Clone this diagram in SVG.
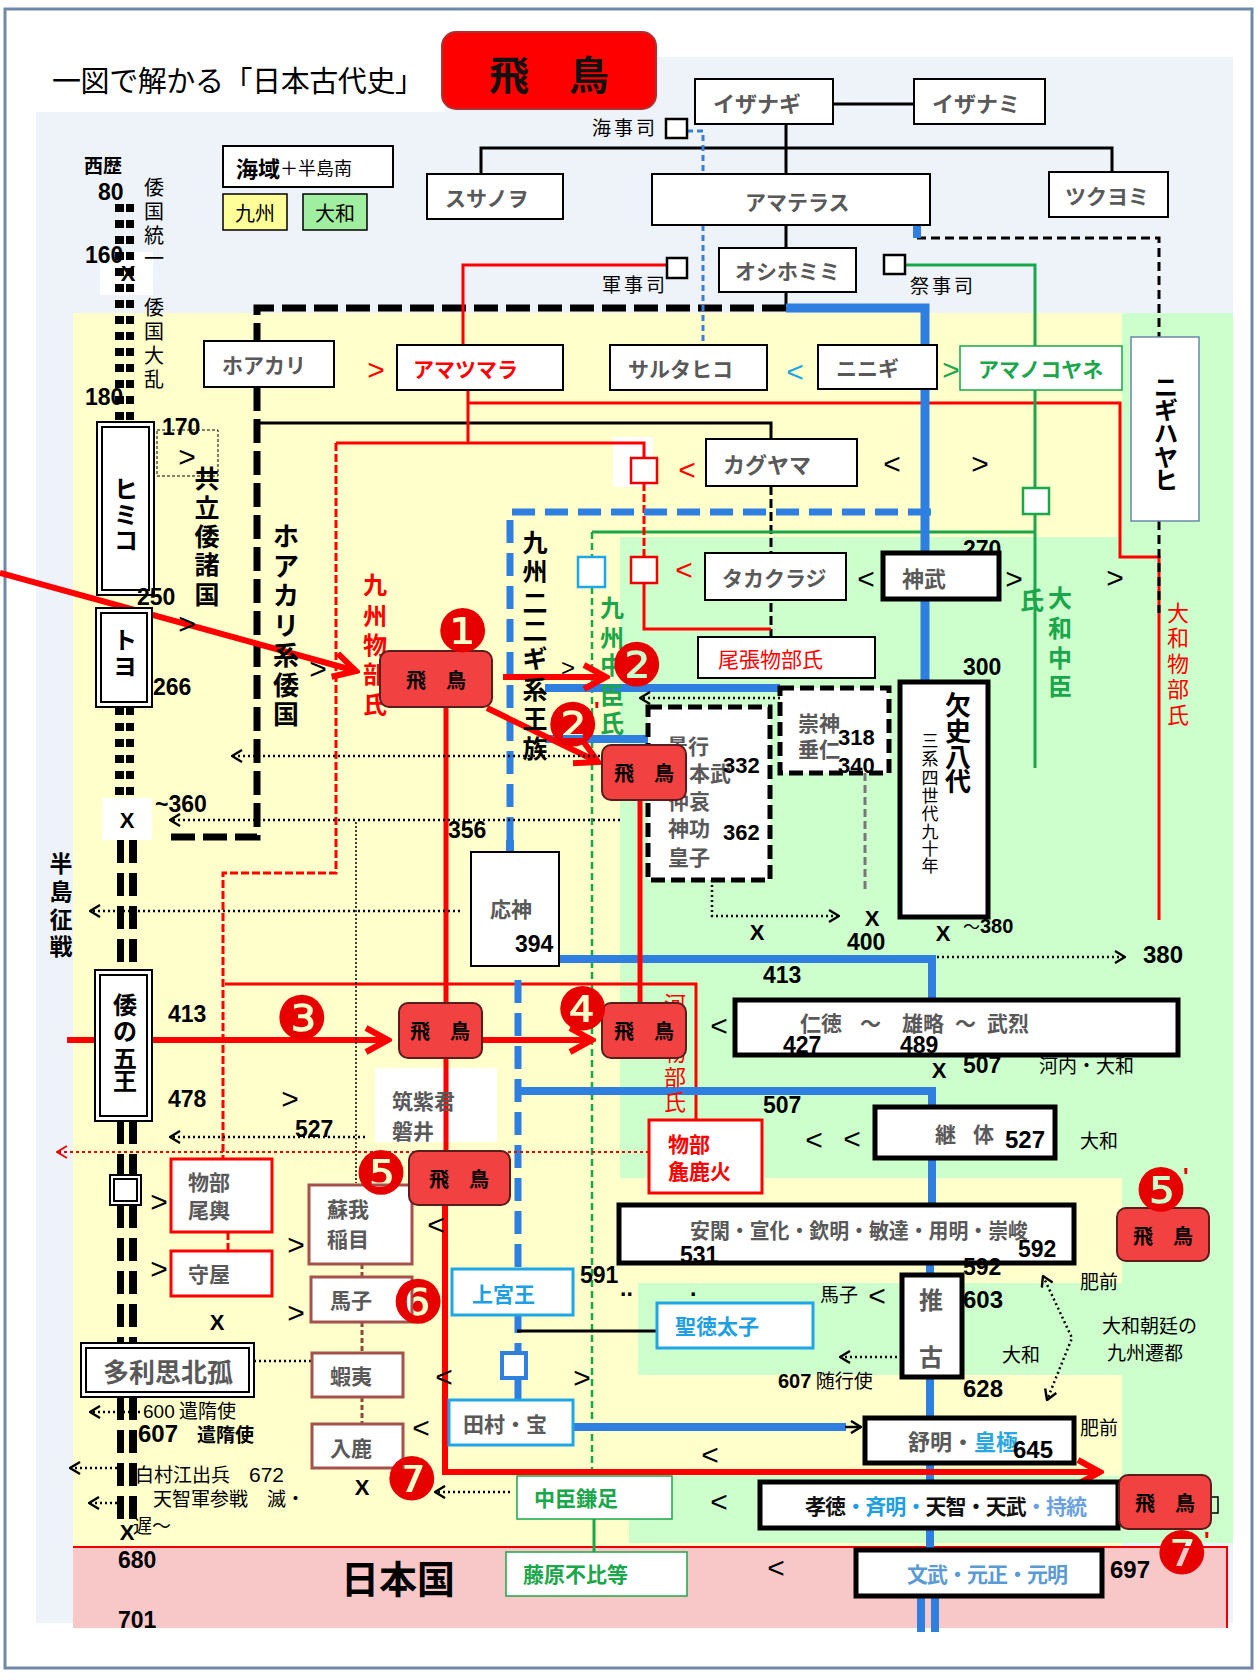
<svg xmlns="http://www.w3.org/2000/svg" width="1260" height="1680" viewBox="0 0 1260 1680">
<defs>
<style>
.j{font-family:"Noto Sans CJK JP","Noto Sans CJK SC",sans-serif}
.g{font-family:"Noto Sans CJK JP","Noto Sans CJK SC",sans-serif;font-weight:700;fill:#595959;font-size:21px;dominant-baseline:central}
.n{font-family:"Liberation Sans",Arial,sans-serif;font-weight:700;font-size:23px;fill:#000}
.s{font-family:"Liberation Sans",Arial,sans-serif;font-size:30px;text-anchor:middle;dominant-baseline:central}
.x{font-family:"Liberation Sans",Arial,sans-serif;font-weight:700;font-size:22px;text-anchor:middle;dominant-baseline:central}
.v{font-family:"Noto Sans CJK JP","Noto Sans CJK SC",sans-serif;text-anchor:middle;dominant-baseline:central}
.l{font-family:"Noto Sans CJK JP","Noto Sans CJK SC",sans-serif;font-size:19px;fill:#000}
.w{fill:#fff;stroke:#000;stroke-width:2}
.k{fill:#fff;stroke:#000;stroke-width:5}
.kb{fill:#fff;stroke:#1ea6e6;stroke-width:3}
.kr{fill:#fff;stroke:#f00;stroke-width:3}
.kn{fill:#fff;stroke:#a5524c;stroke-width:3}
.kg{fill:#fff;stroke:#1aa64a;stroke-width:1.5}
.kd{fill:#fff;stroke:#000;stroke-width:5;stroke-dasharray:14 6}
.a{fill:#f24141;stroke:#5a1c1c;stroke-width:2}
.at{font-family:"Noto Sans CJK JP","Noto Sans CJK SC",sans-serif;font-weight:700;font-size:20px;fill:#000;text-anchor:middle;dominant-baseline:central}
.cn{font-family:"DejaVu Sans",sans-serif;fill:#e60000;font-size:60px;text-anchor:middle;dominant-baseline:central}
.pr{font-family:"Liberation Sans",Arial,sans-serif;fill:#e60000;font-size:24px;font-weight:700}
.dot{stroke:#000;stroke-width:2.5;stroke-dasharray:2 3;fill:none}
.da{stroke:#000;stroke-width:2.5;stroke-dasharray:2 3;fill:none;marker-end:url(#ad)}
.sq{fill:#fff;stroke:#000;stroke-width:2.5}
</style>
<marker id="ar" markerUnits="userSpaceOnUse" viewBox="0 0 30 30" markerWidth="30" markerHeight="30" refX="26" refY="15" orient="auto"><path d="M4,3L26,15L4,27" fill="none" stroke="#f00" stroke-width="6"/></marker>
<marker id="ad" markerUnits="userSpaceOnUse" viewBox="0 0 12 14" markerWidth="12" markerHeight="14" refX="11" refY="7" orient="auto-start-reverse"><path d="M1,1L11,7L1,13" fill="none" stroke="#000" stroke-width="2.4"/></marker>
<marker id="adr" markerUnits="userSpaceOnUse" viewBox="0 0 12 14" markerWidth="12" markerHeight="14" refX="11" refY="7" orient="auto"><path d="M1,1L11,7L1,13" fill="none" stroke="#e00" stroke-width="2"/></marker>
<marker id="ab" markerUnits="userSpaceOnUse" viewBox="0 0 12 14" markerWidth="12" markerHeight="14" refX="11" refY="7" orient="auto"><path d="M1,1L11,7L1,13" fill="none" stroke="#000" stroke-width="2.5"/></marker>
</defs>

<g id="background">
<rect width="1260" height="1680" fill="#fff"/>
<rect x="36" y="112" width="1197" height="1511" fill="#eef3fa"/>
<rect x="445" y="57" width="788" height="56" fill="#eef3fa"/>
<rect x="73" y="313" width="1049" height="1234" fill="#ffffcc"/>
<rect x="1122" y="313" width="111" height="1230" fill="#ccffcc"/>
<rect x="620" y="537" width="502" height="641" fill="#ccffcc"/>
<rect x="638" y="1283" width="484" height="92" fill="#ccffcc"/>
<rect x="629" y="1476" width="493" height="67" fill="#ccffcc"/>
<rect x="73" y="1547" width="1154" height="81" fill="#f8c8c8"/>
<path d="M73,1547H1227V1628" stroke="#e00" stroke-width="2" fill="none"/>
<rect x="5" y="9" width="1247" height="1659" fill="none" stroke="#7088a8" stroke-width="3"/>
<rect x="100" y="252" width="53" height="43" fill="#fff"/>
<rect x="102" y="798" width="50" height="42" fill="#fff"/>
<rect x="613" y="437" width="40" height="50" fill="#fff"/>
<rect x="375" y="1068" width="122" height="74" fill="#fff"/>
</g>

<g id="title">
<text x="52" y="92" class="j" font-size="29" fill="#000" textLength="372">一図で解かる「日本古代史」</text>
<rect x="442" y="32" width="214" height="77" rx="14" fill="#ff0000" stroke="#b03030" stroke-width="2"/>
<text x="549" y="73" class="j" font-size="40" font-weight="700" text-anchor="middle" dominant-baseline="central" fill="#111">飛　鳥</text>
</g>

<g id="legend">
<rect x="223" y="146" width="170" height="41" class="w" stroke-width="1.5"/>
<text x="236" y="167" class="j" dominant-baseline="central" fill="#000"><tspan font-weight="700" font-size="22">海域</tspan><tspan font-size="18">＋半島南</tspan></text>
<rect x="223" y="194" width="64" height="36" fill="#ffff99" stroke="#000" stroke-width="1.5"/>
<text x="255" y="212" class="v" font-size="20" fill="#000">九州</text>
<rect x="303" y="194" width="64" height="36" fill="#a0eea0" stroke="#000" stroke-width="1.5"/>
<text x="335" y="212" class="v" font-size="20" fill="#000">大和</text>
</g>

<g id="timeline">
<path d="M119.5,204V420M119.5,707V798" stroke="#000" stroke-width="9" stroke-dasharray="8 8"/>
<path d="M130,204V420M130,707V798" stroke="#000" stroke-width="8" stroke-dasharray="8 8"/>
<path d="M120.5,840V970M120.5,1121V1175M120.5,1205V1343M120.5,1397V1525" stroke="#000" stroke-width="7" stroke-dasharray="23 10"/>
<path d="M133,840V970M133,1121V1175M133,1205V1343M133,1397V1525" stroke="#000" stroke-width="8" stroke-dasharray="23 10"/>
</g>

<g id="connectors" fill="none">
<path d="M833,104H914M786,124V174M481,174V148H1112V172M786,225V248M786,292V308" stroke="#000" stroke-width="3"/>
<path d="M786,308H257V837H163" stroke="#000" stroke-width="7" stroke-dasharray="24 8"/>
<path d="M257,423H771V439" stroke="#000" stroke-width="3"/>
<path d="M771,486V637" stroke="#000" stroke-width="3" stroke-dasharray="9 4"/>
<path d="M687,131H703V345" stroke="#3a7fd5" stroke-width="3" stroke-dasharray="6 4"/>
<path d="M667,265H463V345" stroke="#f00" stroke-width="3"/>
<path d="M468,390V443M468,403H1120V557H1159V920" stroke="#f00" stroke-width="3"/>
<path d="M917,238H1159V337M1159,521V613" stroke="#000" stroke-width="3" stroke-dasharray="9 5"/>
<path d="M905,265H1035V768M592,532H1035" stroke="#1aa64a" stroke-width="3"/>
<path d="M592,532V1476" stroke="#1aa64a" stroke-width="2.5" stroke-dasharray="7 4"/>
<path d="M594,1519V1552" stroke="#1aa64a" stroke-width="3"/>
<path d="M336,443H644V458" stroke="#f00" stroke-width="3"/>
<path d="M336,443V873H223V1159M644,483V557M228,1232V1251" stroke="#f00" stroke-width="3" stroke-dasharray="8 3"/>
<path d="M644,583V629H771M225,984H696V1120" stroke="#f00" stroke-width="3"/>
<path d="M917,225V238" stroke="#2f7fe0" stroke-width="8"/>
<path d="M786,308H925V682" stroke="#2f7fe0" stroke-width="9"/>
<path d="M510,840V512H932" stroke="#2f7fe0" stroke-width="7" stroke-dasharray="23 10"/>
<path d="M518,980V1400" stroke="#2f7fe0" stroke-width="7" stroke-dasharray="23 10"/>
<path d="M510,840V852M545,688H780M545,739H650M559,959H932V1000M517,1091H932V1107M932,1158V1205M930,1263V1275M930,1377V1418M930,1463V1482M930,1528V1550M921,1596V1632M935,1596V1632M573,1427H846" stroke="#2f7fe0" stroke-width="8"/>
<path d="M845,1427H861" stroke="#000" stroke-width="2.5" marker-end="url(#ab)"/>
<path d="M517,1331H657" stroke="#000" stroke-width="3"/>
<path d="M446,707V1003M640,800V1003M446,1058V1151" stroke="#f00" stroke-width="5"/>
<path d="M445,1205V1472H1100" stroke="#f00" stroke-width="6" marker-end="url(#ar)"/>
<path d="M0,573L356,671" stroke="#f00" stroke-width="6" marker-end="url(#ar)"/>
<path d="M503,677H606" stroke="#f00" stroke-width="6" marker-end="url(#ar)"/>
<path d="M487,708L598,762" stroke="#f00" stroke-width="6" marker-end="url(#ar)"/>
<path d="M67,1040H388" stroke="#f00" stroke-width="6" marker-end="url(#ar)"/>
<path d="M482,1040H592" stroke="#f00" stroke-width="6" marker-end="url(#ar)"/>
<path d="M649,1152H57" stroke="#e00" stroke-width="2" stroke-dasharray="3 3" marker-end="url(#adr)"/>
<path d="M362,1264V1277M362,1322V1353M362,1397V1424" stroke="#8b4a3a" stroke-width="3" stroke-dasharray="5 3"/>
<path d="M620,756H232" class="da"/>
<path d="M620,820H170" class="da"/>
<path d="M460,911H90" class="da"/>
<path d="M365,1137H170" class="da"/>
<path d="M780,698H640" class="da"/>
<path d="M712,880V916H839" class="da"/>
<path d="M937,957H1125" class="da"/>
<path d="M902,1357H840" class="da"/>
<path d="M140,1412H90" class="da"/>
<path d="M117,1468H70" class="da"/>
<path d="M117,1503H89" class="da"/>
<path d="M510,1492H435" class="da"/>
<path d="M254,1361H311" class="dot"/>
<path d="M356,822V1183" stroke="#000" stroke-width="1.5" stroke-dasharray="2 2"/>
<path d="M1043,1276L1072,1338L1047,1400" class="dot" marker-start="url(#ad)" marker-end="url(#ad)"/>
<path d="M865,773V892" stroke="#777" stroke-width="3" stroke-dasharray="8 4"/>
<rect x="157" y="430" width="61" height="46" stroke="#000" stroke-width="1" stroke-dasharray="3 2"/>
</g>

<g id="squares">
<rect x="666" y="119" width="21" height="19" class="sq"/>
<rect x="667" y="258" width="20" height="20" class="sq"/>
<rect x="884" y="255" width="21" height="19" class="sq"/>
<rect x="631" y="458" width="26" height="25" fill="#fff" stroke="#e00" stroke-width="2.5"/>
<rect x="631" y="557" width="26" height="26" fill="#fff" stroke="#e00" stroke-width="2.5"/>
<rect x="578" y="557" width="27" height="30" fill="#fff" stroke="#1ea6e6" stroke-width="2.5"/>
<rect x="1023" y="488" width="26" height="26" fill="#fff" stroke="#1aa64a" stroke-width="2.5"/>
<rect x="502" y="1353" width="24" height="25" fill="#fff" stroke="#2f7fe0" stroke-width="4"/>
</g>

<g id="under-labels">
<text class="v" font-size="24" font-weight="700" fill="#1aa64a" x="612 612 612 612 612" y="606 636 663 693 721">九州中臣氏</text>
<text class="v" font-size="22" fill="#f00" x="675 675 675 675 675" y="1002 1026 1051 1075 1100">河内物部氏</text>
<text class="v" font-size="24" font-weight="700" fill="#f00" x="375 375 375 375 375" y="583 614 643 672 702">九州物部氏</text>
<text x="963" y="557" class="n">270</text>
</g>

<g id="n-izanagi"><rect x="695" y="79" width="138" height="45" class="w"/><text x="713" y="102" class="g" style="font-size:22px">イザナギ</text></g>
<g id="n-izanami"><rect x="914" y="79" width="131" height="45" class="w"/><text x="932" y="102" class="g" style="font-size:22px">イザナミ</text></g>
<g id="n-susanoo"><rect x="427" y="174" width="136" height="45" class="w"/><text x="445" y="197" class="g">スサノヲ</text></g>
<g id="n-amaterasu"><rect x="652" y="174" width="278" height="51" class="w"/><text x="745" y="201" class="g">アマテラス</text></g>
<g id="n-tsukuyomi"><rect x="1049" y="172" width="119" height="45" class="w"/><text x="1065" y="195" class="g">ツクヨミ</text></g>
<g id="n-oshihomimi"><rect x="719" y="248" width="137" height="44" class="w"/><text x="735" y="270" class="g">オシホミミ</text></g>
<g id="n-hoakari"><rect x="204" y="341" width="130" height="46" class="w"/><text x="222" y="364" class="g">ホアカリ</text></g>
<g id="n-amatsumara"><rect x="397" y="345" width="166" height="45" class="w"/><text x="413" y="368" class="g" style="fill:#f00">アマツマラ</text></g>
<g id="n-sarutahiko"><rect x="610" y="345" width="157" height="45" class="w"/><text x="628" y="368" class="g">サルタヒコ</text></g>
<g id="n-ninigi"><rect x="818" y="345" width="119" height="44" class="w"/><text x="836" y="367" class="g">ニニギ</text></g>
<g id="n-amanokoyane"><rect x="960" y="346" width="162" height="44" class="kg"/><text x="978" y="368" class="g" style="fill:#1aa64a">アマノコヤネ</text></g>
<g id="n-nigihayahi"><rect x="1131" y="337" width="68" height="184" fill="#fff" stroke="#6b88a8" stroke-width="1.5"/><text class="v" font-size="24" font-weight="700" fill="#000" x="1166 1166 1166 1166 1166" y="385 408 431 455 478">ニギハヤヒ</text></g>
<g id="n-kaguyama"><rect x="706" y="439" width="151" height="47" class="w"/><text x="723" y="463" class="g" style="font-size:22px">カグヤマ</text></g>
<g id="n-takakuraji"><rect x="705" y="553" width="141" height="47" class="w"/><text x="722" y="577" class="g">タカクラジ</text></g>
<g id="n-owari"><rect x="698" y="637" width="177" height="41" class="w" stroke-width="1"/><text x="718" y="658" class="j" font-size="21" fill="#f00" dominant-baseline="central">尾張物部氏</text></g>
<g id="n-jimmu"><rect x="883" y="553" width="116" height="46" class="k"/><text x="902" y="577" class="g" style="font-size:22px">神武</text></g>
<g id="n-kesshi"><rect x="900" y="682" width="88" height="235" class="k"/>
<text class="v" font-size="26" font-weight="700" fill="#000" x="958 958 958 958" y="703 729 755 779">欠史八代</text>
<text class="v" font-size="17" fill="#000" x="930 930 930 930 930 930 930 930" y="739 757 776 794 812 830 847 864">三系四世代九十年</text></g>
<g id="n-sujin"><rect x="780" y="688" width="109" height="85" class="kd"/><text x="798" y="722" class="g">崇神</text><text x="798" y="748" class="g">垂仁</text></g>
<g id="n-keiko"><rect x="648" y="707" width="122" height="173" class="kd"/>
<text x="667" y="745" class="g">景行</text><text x="668" y="772" class="g">日本武</text><text x="668" y="800" class="g">仲哀</text><text x="668" y="827" class="g">神功</text><text x="668" y="856" class="g">皇子</text></g>
<g id="n-ojin"><rect x="471" y="852" width="88" height="114" class="w" stroke-width="3"/><text x="490" y="908" class="g">応神</text></g>
<g id="n-nintoku"><rect x="735" y="1000" width="443" height="55" class="k"/><text y="1022" class="g"><tspan x="800">仁徳</tspan><tspan x="860">～</tspan><tspan x="902">雄略</tspan><tspan x="955">～</tspan><tspan x="987">武烈</tspan></text></g>
<g id="n-keitai"><rect x="875" y="1107" width="180" height="51" class="k"/><text y="1133" class="g"><tspan x="935">継</tspan><tspan x="973">体</tspan></text></g>
<g id="n-ankan"><rect x="619" y="1205" width="455" height="58" class="k"/><text x="690" y="1229" class="g" textLength="338" lengthAdjust="spacingAndGlyphs">安閑・宣化・欽明・敏達・用明・崇峻</text></g>
<g id="n-suiko"><rect x="902" y="1275" width="60" height="102" class="k"/><text x="931" y="1298" class="g" text-anchor="middle" style="font-size:24px">推</text><text x="931" y="1355" class="g" text-anchor="middle" style="font-size:24px">古</text></g>
<g id="n-jomei"><rect x="865" y="1418" width="209" height="45" class="k"/><text x="908" y="1440" class="g" style="font-size:22px">舒明・<tspan fill="#2aa6e0">皇極</tspan></text></g>
<g id="n-kotoku"><rect x="760" y="1482" width="358" height="46" class="k"/><text x="805" y="1505" class="g" style="fill:#111;font-size:21px" textLength="282">孝徳<tspan fill="#1ea0e0">・斉明・</tspan>天智・天武<tspan fill="#6aa0e0">・持統</tspan></text></g>
<g id="n-mommu"><rect x="856" y="1550" width="246" height="46" class="k"/><text x="907" y="1573" class="g" style="fill:#5b9bd5" textLength="161">文武・元正・元明</text></g>

<g id="n-himiko"><rect x="97" y="422" width="57" height="173" class="w" stroke-width="3"/><rect x="102" y="427" width="47" height="163" class="w"/><text class="v" font-size="24" font-weight="700" fill="#000" x="126 126 126" y="487 513 538">ヒミコ</text></g>
<g id="n-toyo"><rect x="96" y="608" width="56" height="99" class="w" stroke-width="3"/><rect x="101" y="613" width="46" height="89" class="w"/><text class="v" font-size="24" font-weight="700" fill="#000" x="125 125" y="638 664">トヨ</text></g>
<g id="n-wa5"><rect x="95" y="970" width="57" height="151" class="w" stroke-width="3"/><rect x="100" y="975" width="47" height="141" class="w"/><text class="v" font-size="24" font-weight="700" fill="#000" x="125 125 125 125" y="1003 1029 1056 1079">倭の五王</text></g>
<g id="n-smallbox"><rect x="110" y="1175" width="31" height="30" class="w" stroke-width="3"/><rect x="114" y="1179" width="23" height="22" class="w"/></g>
<g id="n-tarishi"><rect x="81" y="1343" width="173" height="54" class="w" stroke-width="3"/><rect x="86" y="1348" width="163" height="44" class="w"/><text x="103" y="1370" class="g" style="font-size:26px">多利思北孤</text></g>

<g id="n-okoshi"><rect x="171" y="1159" width="101" height="73" class="kr"/><text x="188" y="1181" class="g">物部</text><text x="188" y="1209" class="g">尾輿</text></g>
<g id="n-moriya"><rect x="171" y="1251" width="101" height="45" class="kr"/><text x="188" y="1273" class="g">守屋</text></g>
<g id="n-iname"><rect x="309" y="1185" width="103" height="79" class="kn"/><text x="327" y="1208" class="g">蘇我</text><text x="327" y="1238" class="g">稲目</text></g>
<g id="n-umako"><rect x="311" y="1277" width="101" height="45" class="kn"/><text x="330" y="1299" class="g">馬子</text></g>
<g id="n-emishi"><rect x="312" y="1353" width="91" height="44" class="kn"/><text x="330" y="1375" class="g">蝦夷</text></g>
<g id="n-iruka"><rect x="312" y="1424" width="91" height="44" class="kn"/><text x="330" y="1447" class="g">入鹿</text></g>
<g id="n-arakabi"><rect x="649" y="1120" width="113" height="73" class="kr"/><text x="668" y="1143" class="g" style="fill:#f00">物部</text><text x="668" y="1170" class="g" style="fill:#f00">麁鹿火</text></g>
<g id="n-iwai"><text x="392" y="1100" class="g">筑紫君</text><text x="392" y="1130" class="g">磐井</text></g>
<g id="n-jogu"><rect x="452" y="1269" width="121" height="46" class="kb"/><text x="472" y="1293" class="g" style="fill:#1e9fe3">上宮王</text></g>
<g id="n-shotoku"><rect x="657" y="1303" width="156" height="45" class="kb"/><text x="675" y="1325" class="g" style="fill:#1e9fe3">聖徳太子</text></g>
<g id="n-tamura"><rect x="449" y="1400" width="124" height="45" class="kb"/><text x="463" y="1423" class="g">田村・宝</text></g>
<g id="n-kamatari"><rect x="517" y="1476" width="155" height="43" class="kg"/><text x="534" y="1497" class="g" style="fill:#1aa64a">中臣鎌足</text></g>
<g id="n-fuhito"><rect x="506" y="1552" width="181" height="44" class="kg"/><text x="523" y="1573" class="g" style="fill:#1aa64a">藤原不比等</text></g>

<g id="n-asuka1"><rect x="380" y="651" width="112" height="56" rx="9" class="a"/><text x="436" y="679" class="at">飛　鳥</text></g>
<g id="n-asuka2"><rect x="602" y="745" width="84" height="55" rx="9" class="a"/><text x="644" y="772" class="at">飛　鳥</text></g>
<g id="n-asuka3"><rect x="399" y="1003" width="83" height="55" rx="9" class="a"/><text x="440" y="1030" class="at">飛　鳥</text></g>
<g id="n-asuka4"><rect x="602" y="1003" width="84" height="55" rx="9" class="a"/><text x="644" y="1030" class="at">飛　鳥</text></g>
<g id="n-asuka5"><rect x="409" y="1151" width="101" height="54" rx="9" class="a"/><text x="459" y="1178" class="at">飛　鳥</text></g>
<g id="n-asuka5p"><rect x="1117" y="1208" width="92" height="53" rx="9" class="a"/><text x="1163" y="1235" class="at">飛　鳥</text></g>
<g id="n-asuka7"><rect x="1210" y="1497" width="8" height="16" fill="none" stroke="#000" stroke-width="1.5"/><rect x="1119" y="1475" width="92" height="54" rx="9" class="a"/><text x="1165" y="1502" class="at">飛　鳥</text></g>

<g id="labels">
<text x="592" y="135" class="l" font-size="18" letter-spacing="3">海事司</text>
<text x="602" y="292" class="l" font-size="18" letter-spacing="3">軍事司</text>
<text x="910" y="293" class="l" font-size="18" letter-spacing="3">祭事司</text>
<text x="84" y="173" class="l" font-weight="700" font-size="18">西歴</text>
<text class="v" font-size="20" fill="#000" x="154 154 154 154" y="186 210 234 257">倭国統一</text>
<text class="v" font-size="20" fill="#000" x="154 154 154 154" y="306 330 354 378">倭国大乱</text>
<text class="v" font-size="25" font-weight="700" fill="#000" x="207 207 207 207 207" y="477 506 535 563 593">共立倭諸国</text>
<text class="v" font-size="26" font-weight="700" fill="#000" x="286 286 286 286 286 286 286" y="534 564 593 623 653 683 712">ホアカリ系倭国</text>
<text class="v" font-size="25" font-weight="700" fill="#000" x="535 535 535 535 535 535 535 535" y="541 570 601 629 657 688 717 747">九州二二ギ系王族</text>
<text class="v" font-size="24" font-weight="700" fill="#1aa64a" x="1032" y="598">氏</text>
<text class="v" font-size="24" font-weight="700" fill="#1aa64a" x="1060 1060 1060 1060" y="596 626 656 684">大和中臣</text>
<text class="v" font-size="22" fill="#f00" x="1178 1178 1178 1178 1178" y="611 636 662 687 713">大和物部氏</text>
<text class="v" font-size="23" font-weight="700" fill="#000" x="61 61 61 61" y="862 890 918 945">半島征戦</text>
<text x="1039" y="1073" class="l" font-size="18">河内・大和</text>
<text x="1080" y="1148" class="l" font-size="19">大和</text>
<text x="820" y="1302" class="l" font-size="17">馬子</text>
<text x="778" y="1388" class="l" font-size="19"><tspan font-family="Liberation Sans,Arial,sans-serif" font-weight="700" font-size="20">607</tspan> 随行使</text>
<text x="1002" y="1362" class="l" font-size="22">大和</text>
<text x="1080" y="1289" class="l" font-size="20">肥前</text>
<text x="1080" y="1435" class="l" font-size="20">肥前</text>
<text x="1102" y="1333" class="l" font-size="22">大和朝廷の</text>
<text x="1107" y="1360" class="l" font-size="22">九州遷都</text>
<text x="143" y="1418" class="l" font-size="19"><tspan font-family="Liberation Sans,Arial,sans-serif">600</tspan> 遣隋使</text>
<text x="138" y="1442" class="l" font-weight="700" font-size="21"><tspan font-family="Liberation Sans,Arial,sans-serif" font-size="24">607</tspan>　遣隋使</text>
<text x="135" y="1482" class="l" font-size="19">白村江出兵　<tspan font-family="Liberation Sans,Arial,sans-serif" font-size="21">672</tspan></text>
<text x="153" y="1506" class="l" font-size="19">天智軍参戦　滅・</text>
<text x="133" y="1533" class="l" font-size="19">遅～</text>
<text x="341" y="1593" class="j" font-size="38" font-weight="700" fill="#000">日本国</text>

<text x="98" y="200" class="n">80</text>
<text x="85" y="263" class="n">160</text>
<text x="85" y="405" class="n">180</text>
<text x="162" y="435" class="n">170</text>
<text x="137" y="605" class="n">250</text>
<text x="153" y="695" class="n">266</text>
<text x="155" y="812" class="n">~360</text>
<text x="448" y="838" class="n">356</text>
<text x="963" y="675" class="n">300</text>
<text x="838" y="745" class="n" style="font-size:22px">318</text>
<text x="838" y="773" class="n" style="font-size:22px">340</text>
<text x="723" y="773" class="n" style="font-size:22px">332</text>
<text x="723" y="840" class="n" style="font-size:22px">362</text>
<text x="515" y="952" class="n">394</text>
<text x="847" y="950" class="n">400</text>
<text x="963" y="933" class="n" style="font-size:20px"><tspan font-weight="400" font-family="Noto Sans CJK JP,sans-serif" font-size="17">～</tspan>380</text>
<text x="1143" y="963" class="n" style="font-size:24px">380</text>
<text x="763" y="983" class="n">413</text>
<text x="168" y="1022" class="n">413</text>
<text x="783" y="1053" class="n">427</text>
<text x="900" y="1053" class="n">489</text>
<text x="963" y="1073" class="n">507</text>
<text x="168" y="1107" class="n">478</text>
<text x="763" y="1113" class="n">507</text>
<text x="295" y="1137" class="n">527</text>
<text x="1005" y="1148" class="n" style="font-size:24px">527</text>
<text x="680" y="1263" class="n">531</text>
<text x="1018" y="1257" class="n">592</text>
<text x="580" y="1283" class="n">591</text>
<text x="963" y="1275" class="n">592</text>
<text x="963" y="1308" class="n" style="font-size:24px">603</text>
<text x="963" y="1397" class="n" style="font-size:24px">628</text>
<text x="1013" y="1458" class="n" style="font-size:24px">645</text>
<text x="1110" y="1578" class="n" style="font-size:24px">697</text>
<text x="118" y="1568" class="n">680</text>
<text x="118" y="1628" class="n">701</text>
<text x="620" y="1296" class="n" font-size="14">..</text>
<text x="690" y="1296" class="n">.</text>

<text x="128" y="273" class="x">X</text>
<text x="127" y="820" class="x">X</text>
<text x="757" y="932" class="x">X</text>
<text x="872" y="918" class="x">X</text>
<text x="943" y="933" class="x">X</text>
<text x="939" y="1070" class="x">X</text>
<text x="217" y="1322" class="x">X</text>
<text x="362" y="1487" class="x">X</text>
<text x="127" y="1532" class="x">X</text>

<text x="376" y="369" class="s" fill="#f00">&gt;</text>
<text x="795" y="371" class="s" fill="#1ea6e6">&lt;</text>
<text x="951" y="369" class="s" fill="#1aa64a">&gt;</text>
<text x="687" y="469" class="s" fill="#f00">&lt;</text>
<text x="892" y="463" class="s">&lt;</text>
<text x="980" y="463" class="s">&gt;</text>
<text x="187" y="456" class="s">&gt;</text>
<text x="684" y="569" class="s" fill="#f00">&lt;</text>
<text x="866" y="578" class="s">&lt;</text>
<text x="1014" y="578" class="s">&gt;</text>
<text x="1115" y="577" class="s">&gt;</text>
<text x="187" y="623" class="s">&gt;</text>
<text x="318" y="668" class="s">&gt;</text>
<text x="568" y="667" class="s" style="font-size:24px">&gt;</text>
<text x="719" y="1025" class="s">&lt;</text>
<text x="290" y="1098" class="s">&gt;</text>
<text x="814" y="1139" class="s">&lt;</text>
<text x="852" y="1138" class="s">&lt;</text>
<text x="159" y="1201" class="s">&gt;</text>
<text x="296" y="1244" class="s">&gt;</text>
<text x="436" y="1224" class="s">&lt;</text>
<text x="159" y="1268" class="s">&gt;</text>
<text x="296" y="1312" class="s">&gt;</text>
<text x="444" y="1376" class="s">&lt;</text>
<text x="582" y="1377" class="s">&gt;</text>
<text x="421" y="1427" class="s">&lt;</text>
<text x="710" y="1454" class="s">&lt;</text>
<text x="719" y="1501" class="s">&lt;</text>
<text x="776" y="1567" class="s">&lt;</text>
<text x="877" y="1295" class="s">&lt;</text>
</g>

<g id="markers">
<text x="463" y="631" class="cn">❶</text>
<text x="637" y="665" class="cn">❷</text>
<text x="573" y="725" class="cn">❷</text><text x="594" y="719" class="pr">'</text>
<text x="302" y="1018" class="cn">❸</text>
<text x="583" y="1009" class="cn">❹</text>
<text x="381" y="1173" class="cn">❺</text>
<text x="1161" y="1190" class="cn">❺</text><text x="1183" y="1185" class="pr">'</text>
<text x="418" y="1302" class="cn">❻</text>
<text x="412" y="1479" class="cn">❼</text>
<text x="1182" y="1553" class="cn">❼</text><text x="1204" y="1549" class="pr">'</text>
</g>
</svg>
